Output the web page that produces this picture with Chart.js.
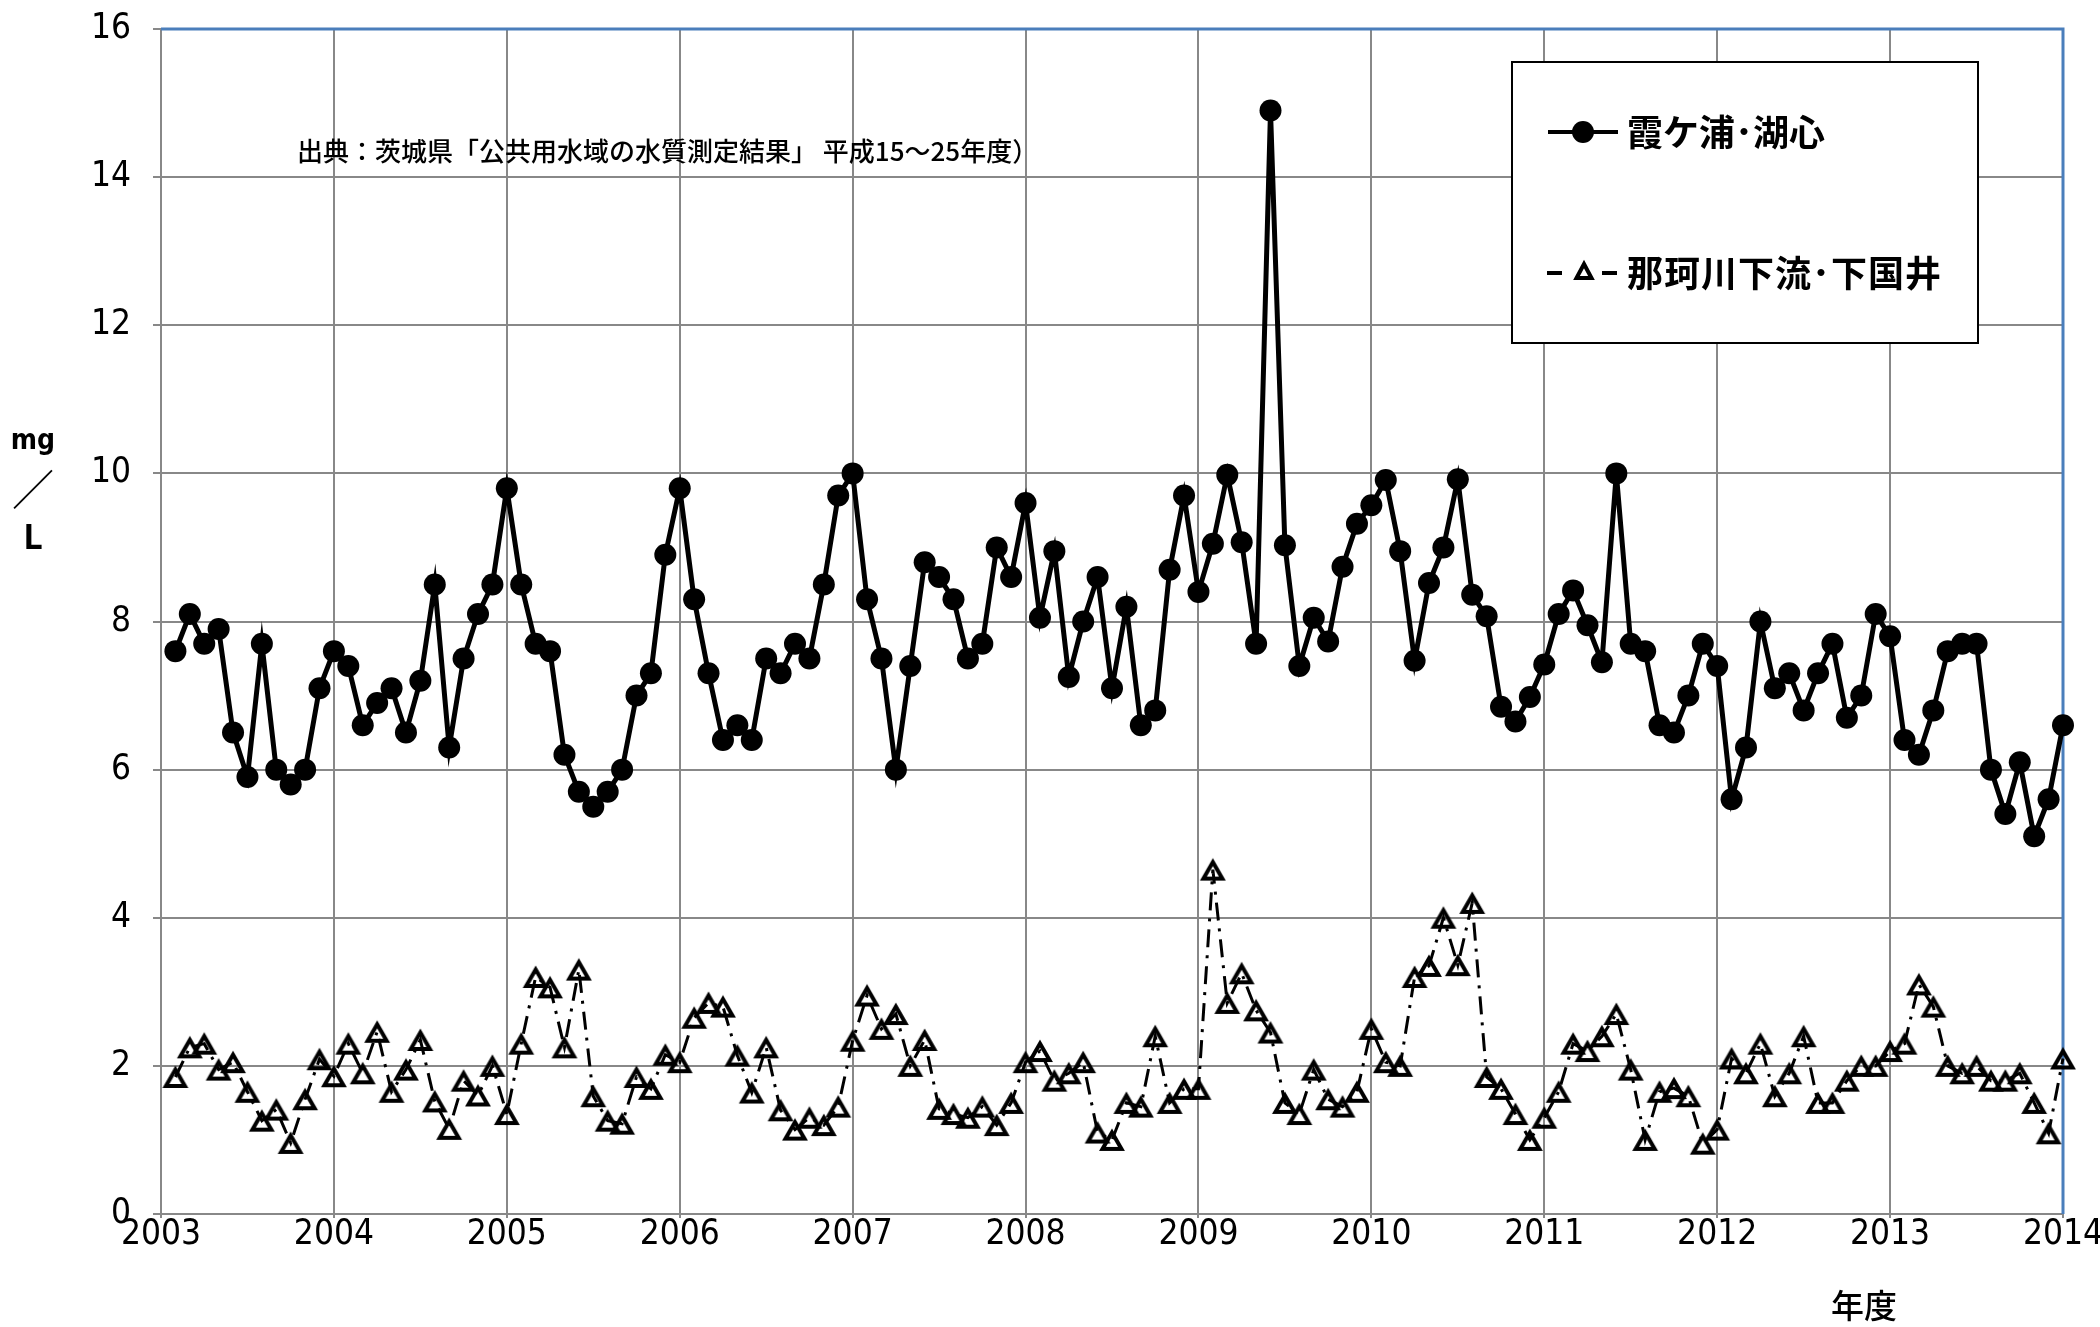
<!DOCTYPE html>
<html>
<head>
<meta charset="utf-8">
<script src="https://cdn.jsdelivr.net/npm/chart.js@4.4.1/dist/chart.umd.min.js"></script>
<style>
  html, body { margin: 0; padding: 0; background: #fff; }
  canvas { display: block; }
</style>
</head>
<body>
<canvas id="chart" width="2100" height="1327"></canvas>
<script>
// 年度 ticks and y ticks
const years = [2003, 2004, 2005, 2006, 2007, 2008, 2009, 2010, 2011, 2012, 2013, 2014];
const yTicks = [0, 2, 4, 6, 8, 10, 12, 14, 16];
const seriesNames = ['霞ケ浦･湖心', '那珂川下流･下国井'];

// monthly values, one row per year (12 per row)
const kasumigaura = [
  7.6, 8.1, 7.7, 7.9, 6.5, 5.9, 7.7, 6.0, 5.8, 6.0, 7.1, 7.6,
  7.4, 6.6, 6.9, 7.1, 6.5, 7.2, 8.5, 6.3, 7.5, 8.1, 8.5, 9.8,
  8.5, 7.7, 7.6, 6.2, 5.7, 5.5, 5.7, 6.0, 7.0, 7.3, 8.9, 9.8,
  8.3, 7.3, 6.4, 6.6, 6.4, 7.5, 7.3, 7.7, 7.5, 8.5, 9.7, 10.0,
  8.3, 7.5, 6.0, 7.4, 8.8, 8.6, 8.3, 7.5, 7.7, 9.0, 8.6, 9.6,
  8.05, 8.95, 7.25, 8.0, 8.6, 7.1, 8.2, 6.6, 6.8, 8.7, 9.7, 8.4,
  9.05, 9.98, 9.07, 7.7, 14.9, 9.03, 7.4, 8.05, 7.73, 8.74, 9.32, 9.57,
  9.91, 8.95, 7.47, 8.52, 9.0, 9.92, 8.36, 8.07, 6.85, 6.65, 6.98, 7.42,
  8.1, 8.42, 7.95, 7.45, 10.0, 7.7, 7.6, 6.6, 6.5, 7.0, 7.7, 7.4,
  5.6, 6.3, 8.0, 7.1, 7.3, 6.8, 7.3, 7.7, 6.7, 7.0, 8.1, 7.8,
  6.4, 6.2, 6.8, 7.6, 7.7, 7.7, 6.0, 5.4, 6.1, 5.1, 5.6, 6.6
];
const nakagawa = [
  1.85, 2.25, 2.3, 1.95, 2.05, 1.65, 1.26, 1.41, 0.96, 1.55, 2.09, 1.86,
  2.3, 1.9, 2.46, 1.65, 1.95, 2.35, 1.52, 1.15, 1.8, 1.6, 2.0, 1.35,
  2.3, 3.2, 3.06, 2.25, 3.3, 1.59, 1.26, 1.22, 1.85, 1.69, 2.15, 2.05,
  2.65, 2.85, 2.8, 2.14, 1.64, 2.25, 1.4, 1.14, 1.3, 1.2, 1.45, 2.34,
  2.95, 2.5, 2.7, 2.0, 2.35, 1.42, 1.35, 1.3, 1.45, 1.2, 1.5, 2.05,
  2.2, 1.8, 1.9, 2.05, 1.1, 1.0, 1.5, 1.45, 2.4, 1.5, 1.69, 1.69,
  4.65, 2.85, 3.25, 2.75, 2.45, 1.5, 1.35, 1.95, 1.55, 1.45, 1.65, 2.5,
  2.05, 2.0, 3.2, 3.35, 4.0, 3.36, 4.2, 1.85, 1.69, 1.35, 1.0, 1.3,
  1.65, 2.3, 2.2, 2.4, 2.7, 1.95, 1.0, 1.65, 1.7, 1.59, 0.95, 1.14,
  2.1, 1.9, 2.3, 1.59, 1.9, 2.4, 1.5, 1.5, 1.8, 2.0, 2.0, 2.2,
  2.3, 3.1, 2.8, 2.0, 1.9, 2.0, 1.8, 1.8, 1.9, 1.5, 1.09, 2.1
];

const sourceNote = '出典：茨城県「公共用水域の水質測定結果」 平成15～25年度）';
const unitLines = ['mg', '／', 'L'];
const xTitle = '年度';

const gridColor = '#888888';
const jp = '"Noto Sans CJK JP", "Noto Sans", sans-serif';
const num = '"DejaVu Sans Condensed", "Liberation Sans Narrow", "Liberation Sans", sans-serif';

// month i sits at year + (i+1)/12
const toPoints = arr => arr.map((v, i) => ({ x: years[0] + (i + 1) / 12, y: v }));

// hollow triangle marker, centred on its box like the Excel marker
function makeTriangle() {
  const c = document.createElement('canvas');
  c.width = 30; c.height = 28;
  const g = c.getContext('2d');
  g.strokeStyle = '#000';
  g.lineWidth = 4;
  g.lineJoin = 'miter';
  g.beginPath();
  g.moveTo(15, 6.5);
  g.lineTo(24.5, 23);
  g.lineTo(5.5, 23);
  g.closePath();
  g.stroke();
  return c;
}
const triangleImg = makeTriangle();

const extras = {
  id: 'extras',
  beforeDatasetsDraw(chart) {
    const ctx = chart.ctx, a = chart.chartArea;
    ctx.save();
    ctx.strokeStyle = '#4a7ebb';
    ctx.lineWidth = 3;
    ctx.beginPath();
    ctx.moveTo(a.left, a.top);
    ctx.lineTo(a.right, a.top);
    ctx.lineTo(a.right, a.bottom);
    ctx.stroke();
    ctx.restore();
  },
  afterDraw(chart) {
    const ctx = chart.ctx;
    ctx.save();
    ctx.fillStyle = '#000';
    ctx.textBaseline = 'middle';

    // source note
    ctx.font = '500 26px ' + jp;
    ctx.textAlign = 'left';
    ctx.fillText(sourceNote, 297, 151);

    // x title
    ctx.font = '500 33px ' + jp;
    ctx.textAlign = 'center';
    ctx.fillText(xTitle, 1864, 1305);

    // unit, stacked
    ctx.font = 'bold 28px ' + num;
    ctx.fillText(unitLines[0], 33, 442);
    ctx.font = '42px ' + jp;
    ctx.fillText(unitLines[1], 33, 489);
    ctx.font = 'bold 34px ' + jp;
    ctx.fillText(unitLines[2], 33, 536);

    // legend
    ctx.fillStyle = '#fff';
    ctx.fillRect(1512, 62, 466, 281);
    ctx.strokeStyle = '#000';
    ctx.lineWidth = 2;
    ctx.strokeRect(1512, 62, 466, 281);

    ctx.lineWidth = 4;
    ctx.beginPath();
    ctx.moveTo(1548, 132); ctx.lineTo(1618, 132);
    ctx.stroke();
    ctx.fillStyle = '#000';
    ctx.beginPath();
    ctx.arc(1583, 132, 11, 0, Math.PI * 2);
    ctx.fill();

    ctx.beginPath();
    ctx.moveTo(1547, 273); ctx.lineTo(1562, 273);
    ctx.moveTo(1602, 273); ctx.lineTo(1617, 273);
    ctx.stroke();
    ctx.lineWidth = 4;
    ctx.beginPath();
    ctx.moveTo(1584, 264);
    ctx.lineTo(1591.5, 278);
    ctx.lineTo(1576.5, 278);
    ctx.closePath();
    ctx.stroke();

    ctx.font = 'bold 36px ' + jp;
    ctx.textAlign = 'left';
    ctx.fillText(seriesNames[0], 1627, 132);
    ctx.letterSpacing = '1px';
    ctx.fillText(seriesNames[1], 1627, 273);
    ctx.restore();
  }
};

new Chart(document.getElementById('chart'), {
  type: 'line',
  data: {
    datasets: [
      {
        label: seriesNames[0],
        data: toPoints(kasumigaura),
        borderColor: '#000',
        borderWidth: 5,
        pointStyle: 'circle',
        pointRadius: 11,
        pointBackgroundColor: '#000',
        pointBorderColor: '#000',
        pointBorderWidth: 0,
        tension: 0,
        clip: false
      },
      {
        label: seriesNames[1],
        data: toPoints(nakagawa),
        borderColor: '#000',
        borderWidth: 3,
        borderDash: [18, 8, 3, 8],
        pointStyle: triangleImg,
        pointRadius: 12,
        tension: 0,
        clip: false
      }
    ]
  },
  options: {
    responsive: false,
    animation: false,
    devicePixelRatio: 1,
    layout: { padding: { top: 29, right: 37, left: 0, bottom: 0 } },
    plugins: { legend: { display: false }, tooltip: { enabled: false } },
    scales: {
      x: {
        type: 'linear',
        min: years[0],
        max: years[years.length - 1],
        afterBuildTicks: s => { s.ticks = years.map(v => ({ value: v })); },
        ticks: {
          callback: v => String(v),
          font: { family: num, size: 35 },
          color: '#000',
          maxRotation: 0,
          padding: -4
        },
        grid: { color: gridColor, lineWidth: 2, tickLength: 4, tickColor: gridColor },
        border: { display: false },
        afterFit: s => { s.height = 113; s.paddingLeft = 0; s.paddingRight = 0; }
      },
      y: {
        min: 0,
        max: 16,
        afterBuildTicks: s => { s.ticks = yTicks.map(v => ({ value: v })); },
        ticks: {
          font: { family: num, size: 35 },
          color: '#000',
          padding: 22
        },
        grid: { color: gridColor, lineWidth: 2, tickLength: 8, tickColor: gridColor },
        border: { display: false },
        afterFit: s => { s.width = 161; s.paddingTop = 0; s.paddingBottom = 0; }
      }
    }
  },
  plugins: [extras]
});
</script>
</body>
</html>
